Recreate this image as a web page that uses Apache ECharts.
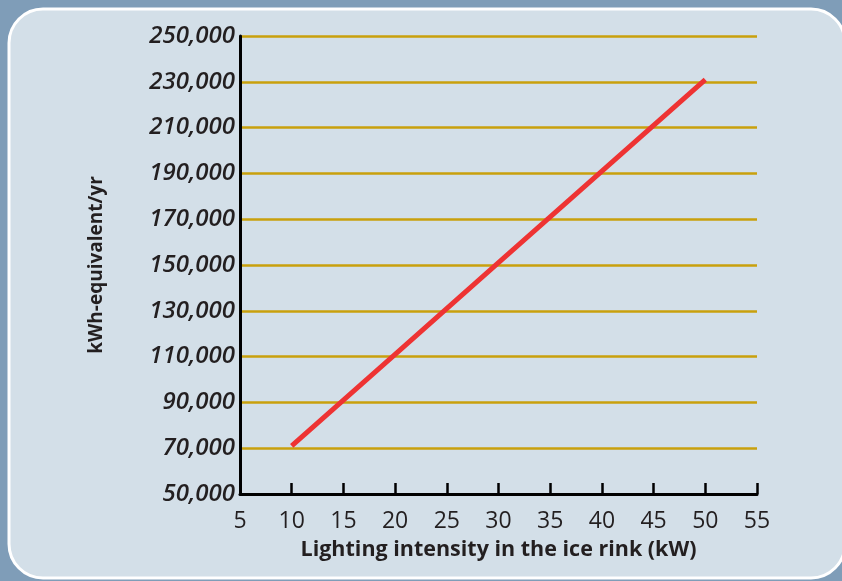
<!DOCTYPE html>
<html>
<head>
<meta charset="utf-8">
<script src="https://cdn.jsdelivr.net/npm/echarts@6/dist/echarts.min.js"></script>
<style>
  html, body { margin:0; padding:0; background:#7f9db8; }
  #chart { width:842px; height:581px; }
</style>
</head>
<body>
<div id="chart"></div>
<script>
const xValues = [10, 20, 30, 40, 50];
const energyValues = [71000, 111000, 151000, 191000, 231000];
const xAxisName = 'Lighting intensity in the ice rink (kW)';
const yAxisName = 'kWh-equivalent/yr';

const chart = echarts.init(document.getElementById('chart'), null, { renderer: 'canvas' });
const font = '"Open Sans", "Noto Sans", sans-serif';
const textColor = '#231f20';

chart.setOption({
  backgroundColor: '#7f9db8',
  animation: false,
  graphic: [{
    type: 'rect',
    z: -10,
    shape: { x: 9, y: 9, width: 836, height: 569, r: 34 },
    style: { fill: '#d3dfe8', stroke: '#ffffff', lineWidth: 3 }
  }],
  grid: { left: 240, right: 85, top: 36, bottom: 87 },
  xAxis: {
    type: 'value',
    min: 5, max: 55, interval: 5,
    name: xAxisName,
    nameLocation: 'middle',
    nameGap: 45,
    nameTextStyle: { fontFamily: font, fontWeight: 'bold', fontSize: 21.5, color: textColor },
    axisLine: { show: true, lineStyle: { color: '#000', width: 3 } },
    axisTick: { show: true, inside: true, length: 11, lineStyle: { color: '#000', width: 2.5 } },
    axisLabel: { fontFamily: font, fontSize: 23, color: textColor, margin: 16 },
    splitLine: { show: false }
  },
  yAxis: {
    type: 'value',
    min: 50000, max: 250000, interval: 20000,
    name: yAxisName,
    nameLocation: 'middle',
    nameGap: 134,
    nameTextStyle: { fontFamily: font, fontWeight: 'bold', fontSize: 19, color: textColor },
    axisLine: { show: true, lineStyle: { color: '#000', width: 3 } },
    axisTick: { show: false },
    axisLabel: {
      fontFamily: font, fontSize: 24, fontWeight: 600, fontStyle: 'italic', color: textColor, margin: 5,
      formatter: v => v.toLocaleString('en-US')
    },
    splitLine: { show: true, lineStyle: { color: '#c9a00c', width: 2.5 } }
  },
  series: [{
    type: 'line',
    data: xValues.map((x, i) => [x, energyValues[i]]),
    symbol: 'none',
    lineStyle: { color: '#ee3333', width: 5 },
    z: 5
  }]
});
</script>
</body>
</html>
